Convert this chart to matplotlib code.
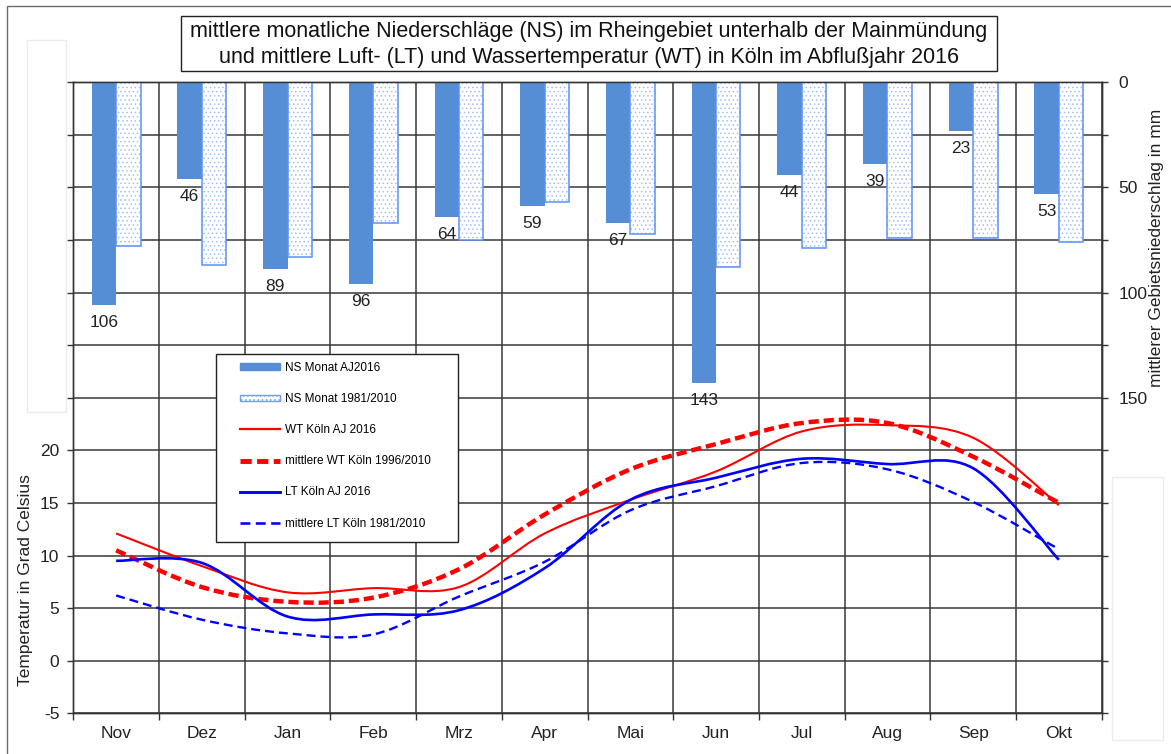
import matplotlib
matplotlib.use('Agg')
import matplotlib.pyplot as plt
import numpy as np
from matplotlib.path import Path
from matplotlib.patches import PathPatch, Rectangle, Patch
from matplotlib.lines import Line2D
from matplotlib.ticker import FuncFormatter

plt.rcParams['font.family'] = ['Liberation Sans', 'DejaVu Sans']
plt.rcParams['hatch.linewidth'] = 0.6

# Daten Abflussjahr 2016 (Nov 2015 - Okt 2016)
monate = ['Nov', 'Dez', 'Jan', 'Feb', 'Mrz', 'Apr', 'Mai', 'Jun', 'Jul', 'Aug', 'Sep', 'Okt']
ns_2016 = [106, 46, 89, 96, 64, 59, 67, 143, 44, 39, 23, 53]
ns_1981_2010 = [78, 87, 83, 67, 75, 57, 72, 88, 79, 74, 74, 76]
wt_2016 = [12.1, 9.0, 6.5, 6.9, 7.0, 12.1, 15.3, 18.0, 21.8, 22.4, 21.2, 14.8]
wt_1996_2010 = [10.5, 7.0, 5.6, 6.0, 8.7, 13.9, 18.2, 20.6, 22.6, 22.6, 19.4, 15.0]
lt_2016 = [9.5, 9.3, 4.2, 4.4, 4.8, 8.8, 15.3, 17.4, 19.2, 18.7, 18.3, 9.6]
lt_1981_2010 = [6.2, 3.9, 2.6, 2.5, 6.1, 9.4, 14.3, 16.6, 18.8, 18.2, 15.1, 10.6]

W, H = 1171, 754
fig = plt.figure(figsize=(W / 100, H / 100), dpi=100)


def px(x, y):
    # pixel (von oben links) -> figure coords
    return x / W, 1 - y / H


def smooth_path(vals):
    # geglaettete Linie wie in Excel (Bezier durch die Datenpunkte)
    pts = np.column_stack([np.arange(len(vals)), np.asarray(vals, float)])
    ext = np.vstack([pts[0], pts, pts[-1]])
    verts = [pts[0]]
    codes = [Path.MOVETO]
    for i in range(len(pts) - 1):
        p0, p1, p2, p3 = ext[i], ext[i + 1], ext[i + 2], ext[i + 3]
        verts += [p1 + (p2 - p0) / 6, p2 - (p3 - p1) / 6, p2]
        codes += [Path.CURVE4] * 3
    return Path(verts, codes)


l, r, t, b = 73.3, 1101.7, 82.3, 713.3
ax = fig.add_axes([l / W, 1 - b / H, (r - l) / W, (b - t) / H])
ax2 = ax.twinx()

x = np.arange(len(monate))

# Temperaturachse (links)
ax.set_xlim(-0.5, 11.5)
ax.set_ylim(-5, 55)
ax.set_yticks(np.arange(-5, 56, 5))
ax.yaxis.set_major_formatter(FuncFormatter(lambda v, p: f'{v:.0f}' if v <= 20 else ''))
ax.set_xticks(x)
ax.set_xticklabels(monate)
ax.set_xticks(np.arange(-0.5, 12, 1), minor=True)
ax.tick_params(axis='x', which='major', length=0, pad=9, labelsize=12.5, colors='#222222')
ax.tick_params(axis='x', which='minor', length=5, direction='out', width=1, color='#333333')
ax.tick_params(axis='y', length=4, width=1, pad=6, labelsize=12.5, color='#333333', labelcolor='#222222')
ax.grid(True, which='major', axis='y', color='#383838', lw=1.1)
ax.grid(True, which='minor', axis='x', color='#383838', lw=1.1)
ax.set_axisbelow(True)

styles = [
    (wt_2016, dict(color='#ff0000', lw=1.5, ls='-'), 'WT Köln AJ 2016'),
    (wt_1996_2010, dict(color='#ff0000', lw=3.2, ls=(0, (2.3, 1.1))), 'mittlere WT Köln 1996/2010'),
    (lt_2016, dict(color='#0000ff', lw=1.9, ls='-'), 'LT Köln AJ 2016'),
    (lt_1981_2010, dict(color='#0000ff', lw=1.7, ls=(0, (3.8, 2.1))), 'mittlere LT Köln 1981/2010'),
]
line_handles = []
for vals, st, lab in styles:
    ax.add_patch(PathPatch(smooth_path(vals), fill=False, edgecolor=st['color'],
                           lw=st['lw'], ls=st['ls'], capstyle='butt', zorder=3))
    line_handles.append(Line2D([], [], color=st['color'], lw=st['lw'] * 1.1, ls=st['ls'], label=lab))

# Niederschlagsachse (rechts, umgekehrt)
bw = 0.285
ax2.set_ylim(300, 0)
ax2.set_yticks(np.arange(0, 301, 25))
ax2.yaxis.set_major_formatter(FuncFormatter(lambda v, p: f'{v:.0f}' if v in (0, 50, 100, 150) else ''))
ax2.tick_params(axis='y', length=4, width=1, pad=8, labelsize=12.5, color='#333333', labelcolor='#222222')
ax2.bar(x - bw / 2, ns_2016, width=bw, color='#558ed5', zorder=2)
# gepunktete Balken: Punkte hell, Rand kraeftiger
ax2.bar(x + bw / 2, ns_1981_2010, width=bw, facecolor='white', edgecolor='#a3bff5',
        hatch='....', lw=0, zorder=2)
ax2.bar(x + bw / 2, ns_1981_2010, width=bw, fill=False, edgecolor='#5c8fff', lw=1.1, zorder=2)
for xi, v in zip(x, ns_2016):
    ax2.annotate(str(v), (xi - bw / 2, v), xytext=(0, -12.5), textcoords='offset points',
                 ha='center', va='center', fontsize=12.5, color='#222222')

for sp in list(ax.spines.values()) + list(ax2.spines.values()):
    sp.set_color('#333333')
    sp.set_linewidth(1.0)

# Legende mit eigenem Rahmen
lx0, ly0, lx1, ly1 = 216, 354, 458, 542
fig.patches.append(Rectangle(px(lx0, ly1), (lx1 - lx0) / W, (ly1 - ly0) / H, transform=fig.transFigure,
                             facecolor='white', edgecolor='#222222', lw=1.0, zorder=5))
handles = [Patch(facecolor='#558ed5', edgecolor='#558ed5'),
           Patch(facecolor='white', edgecolor='#6f9cff', hatch='....')] + line_handles
labels = ['NS Monat AJ2016', 'NS Monat 1981/2010'] + [s[2] for s in styles]
leg = fig.legend(handles, labels, loc='upper left', bbox_to_anchor=px(240, 362), frameon=False,
                 fontsize=8.5, handlelength=3.4, handleheight=0.5, handletextpad=0.4,
                 labelspacing=1.62, borderpad=0, borderaxespad=0)
leg.set_zorder(6)

# Titel
fig.patches.append(Rectangle(px(181, 71), (997 - 181) / W, (71 - 16) / H, transform=fig.transFigure,
                             facecolor='white', edgecolor='#222222', lw=1.0))
fig.text(*px(589, 31), 'mittlere monatliche Niederschläge (NS) im Rheingebiet unterhalb der Mainmündung',
         ha='center', va='center', fontsize=15.5, color='#111111')
fig.text(*px(589, 57), 'und mittlere Luft- (LT) und Wassertemperatur (WT) in Köln im Abflußjahr 2016',
         ha='center', va='center', fontsize=15.5, color='#111111')

# Achsentitel
fig.text(*px(26, 580), 'Temperatur in Grad Celsius', rotation=90, ha='center', va='center',
         fontsize=12.5, color='#222222')
fig.text(*px(1157, 248), 'mittlerer Gebietsniederschlag in mm', rotation=90, ha='center', va='center',
         fontsize=12.5, color='#222222')

# Rahmen und blasse Felder
fig.patches.append(Rectangle(px(7, 760), (W + 10) / W, (760 - 6) / H, transform=fig.transFigure,
                             fill=False, edgecolor='#6b6b6b', lw=1.0))
fig.patches.append(Rectangle(px(27, 412), 39 / W, (412 - 40) / H, transform=fig.transFigure,
                             fill=False, edgecolor='#ececec', lw=1.0))
fig.patches.append(Rectangle(px(1112, 740), 51 / W, (740 - 477) / H, transform=fig.transFigure,
                             fill=False, edgecolor='#ececec', lw=1.0))

fig.savefig('out.png', dpi=100)
